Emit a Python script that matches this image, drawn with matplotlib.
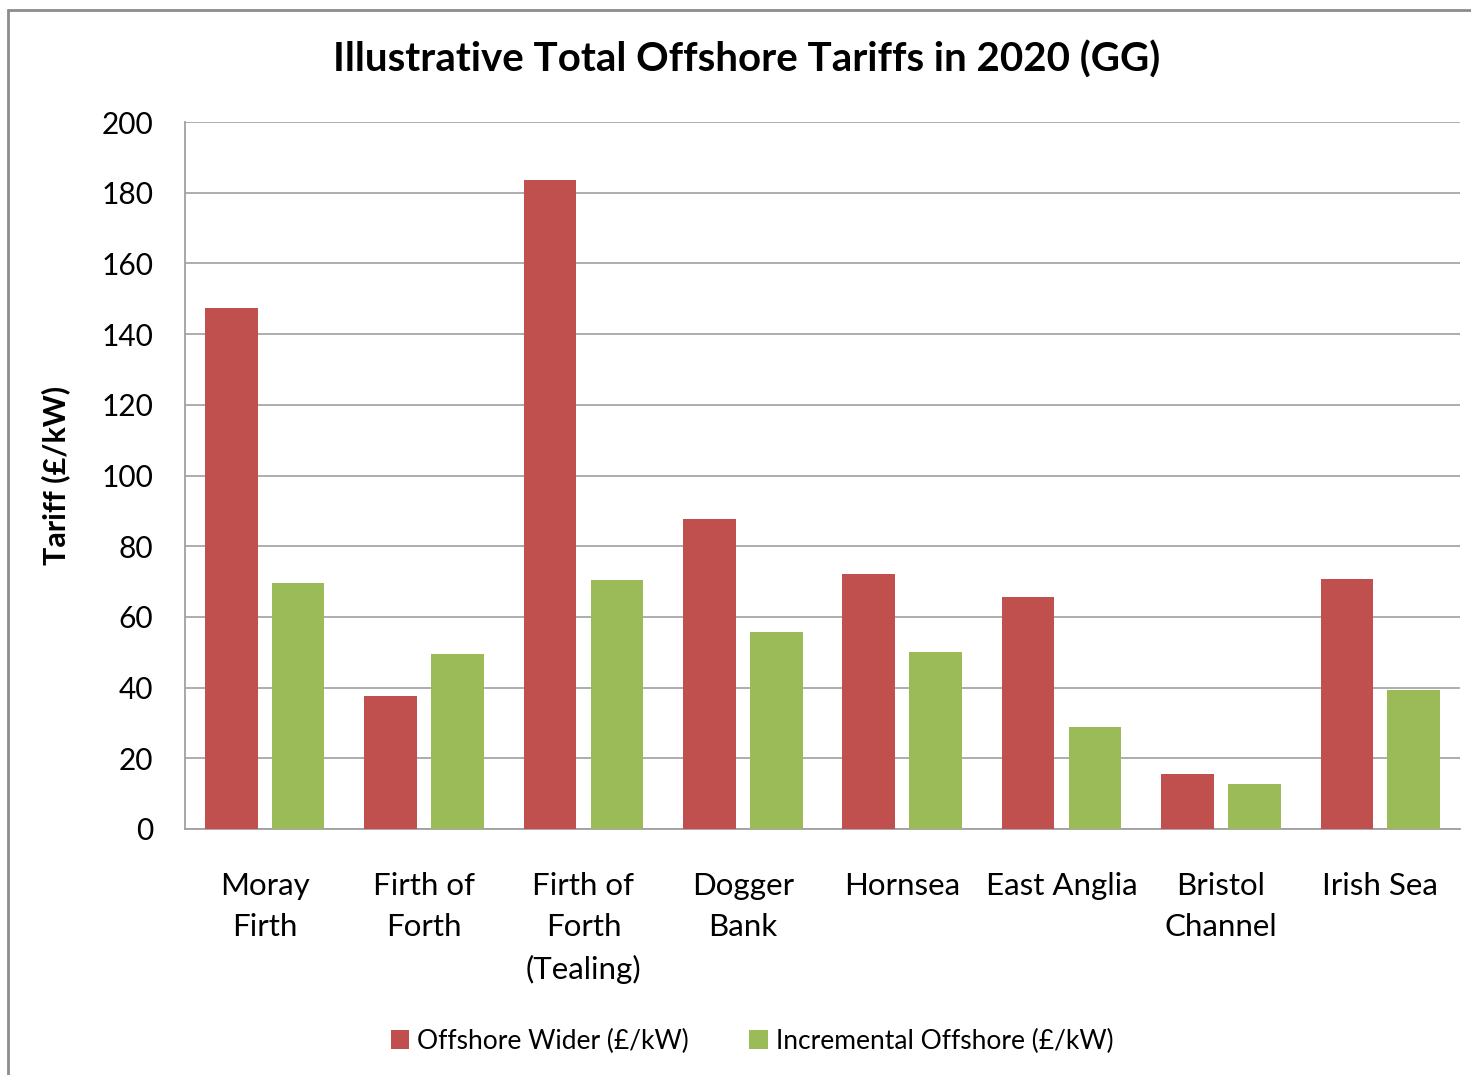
import numpy as np
import matplotlib.pyplot as plt
from matplotlib.patches import Rectangle

regions = ['Moray\nFirth', 'Firth of\nForth', 'Firth of\nForth\n(Tealing)', 'Dogger\nBank',
           'Hornsea', 'East Anglia', 'Bristol\nChannel', 'Irish Sea']
offshore_wider = [147.5, 37.5, 183.5, 87.8, 72.0, 65.7, 15.6, 70.8]
incremental = [69.5, 49.6, 70.3, 55.8, 50.2, 28.9, 12.8, 39.2]
yticks = [0, 20, 40, 60, 80, 100, 120, 140, 160, 180, 200]

red = '#c0504d'
green = '#9bbb59'
grey = '#a0a0a0'

plt.rcParams['font.family'] = ['Lato', 'DejaVu Sans']

fig = plt.figure(figsize=(14.71, 10.75), dpi=100)
W, H = 1471, 1075
ax = fig.add_axes([185 / W, 1 - 829 / H, 1275 / W, 707 / H])

x = np.arange(len(regions))
w = 0.33
ax.bar(x - 0.21, offshore_wider, w, color=red, label='Offshore Wider (£/kW)', zorder=3)
ax.bar(x + 0.21, incremental, w, color=green, label='Incremental Offshore (£/kW)', zorder=3)

ax.set_xlim(-0.5, len(regions) - 0.5)
ax.set_ylim(0, 200)
ax.set_yticks(yticks)
ax.tick_params(axis='y', length=0, labelsize=21.5, pad=23)
ax.tick_params(axis='x', length=0, labelsize=22.5, pad=31)
ax.set_xticks(x)
ax.set_xticklabels(regions, va='top', linespacing=1.56)
ax.yaxis.grid(True, color=grey, linewidth=1.2, zorder=0)
for s in ['top', 'right']:
    ax.spines[s].set_visible(False)
for s in ['left', 'bottom']:
    ax.spines[s].set_color(grey)
    ax.spines[s].set_linewidth(1.3)

ax.set_ylabel('Tariff (£/kW)', fontsize=22, fontweight='bold', labelpad=22)

fig.text(747 / W, 1 - 60 / H, 'Illustrative Total Offshore Tariffs in 2020 (GG)',
         ha='center', va='center', fontsize=29, fontweight='bold')

fig.legend(loc='center', bbox_to_anchor=(752 / W, 1 - 1041 / H), ncol=2, frameon=False,
           fontsize=19, handlelength=0.7, handleheight=0.7, handletextpad=0.3,
           columnspacing=2.3)

# chart frame
fig.patches.append(Rectangle((8 / W, -0.1), 1.2, 1 - 10 / H + 0.1, transform=fig.transFigure,
                             fill=False, edgecolor='#8c8c8c', linewidth=2))

fig.savefig('out.png', dpi=100)
